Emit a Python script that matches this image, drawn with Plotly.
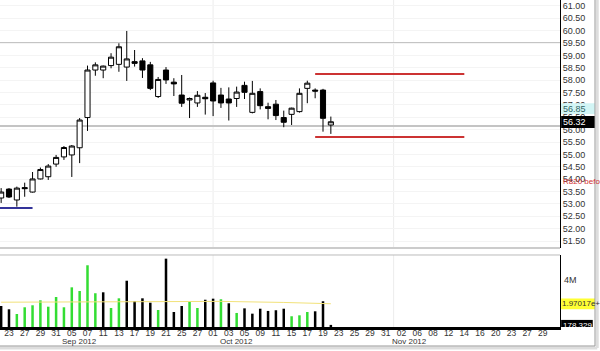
import plotly.graph_objects as go
import pandas as pd

# ---------------- data ----------------
dates = ["2012-08-22", "2012-08-23", "2012-08-24", "2012-08-27", "2012-08-28", "2012-08-29",
         "2012-08-30", "2012-08-31", "2012-09-04", "2012-09-05", "2012-09-06", "2012-09-07",
         "2012-09-10", "2012-09-11", "2012-09-12", "2012-09-13", "2012-09-14", "2012-09-17",
         "2012-09-18", "2012-09-19", "2012-09-20", "2012-09-21", "2012-09-24", "2012-09-25",
         "2012-09-26", "2012-09-27", "2012-09-28", "2012-10-01", "2012-10-02", "2012-10-03",
         "2012-10-04", "2012-10-05", "2012-10-08", "2012-10-09", "2012-10-10", "2012-10-11",
         "2012-10-12", "2012-10-15", "2012-10-16", "2012-10-17", "2012-10-18", "2012-10-19",
         "2012-10-22"]
opens = [53.24, 53.60, 53.16, 53.66, 53.48, 54.01, 54.10, 54.61, 54.90, 54.98, 55.27, 56.49,
         58.41, 58.41, 58.59, 58.64, 58.53, 58.75, 58.78, 58.62, 57.34, 58.41, 57.92, 57.40,
         57.20, 57.08, 57.31, 57.89, 57.40, 57.24, 57.26, 57.79, 56.70, 57.54, 56.93, 57.03,
         56.49, 56.62, 56.73, 57.67, 57.60, 57.60, 56.19]
highs = [53.64, 53.64, 53.70, 53.86, 54.29, 54.47, 54.61, 54.98, 55.34, 55.38, 56.47, 58.59,
         58.72, 58.59, 59.09, 59.49, 59.99, 59.22, 58.89, 58.74, 58.13, 58.53, 58.08, 58.21,
         57.30, 57.56, 57.48, 57.98, 57.69, 57.71, 57.74, 57.94, 57.97, 57.67, 57.09, 57.20,
         56.77, 56.89, 57.67, 57.98, 57.67, 57.65, 56.53]
lows = [53.04, 53.24, 52.89, 53.29, 53.46, 53.99, 53.97, 54.50, 54.78, 54.09, 54.65, 55.95,
        58.18, 58.08, 58.48, 58.34, 57.97, 58.55, 58.09, 57.60, 57.28, 57.85, 57.36, 56.92,
        56.47, 56.92, 56.61, 56.55, 56.88, 56.37, 56.92, 57.24, 56.66, 56.82, 56.42, 56.39,
        56.10, 56.19, 56.69, 57.07, 57.27, 55.92, 55.83]
closes = [53.48, 53.28, 53.64, 53.62, 54.01, 54.39, 54.53, 54.88, 55.28, 55.34, 56.39, 58.41,
          58.62, 58.57, 58.93, 59.35, 58.86, 58.68, 58.41, 57.67, 58.03, 58.01, 57.85, 57.07,
          57.26, 57.39, 57.25, 57.16, 57.08, 57.08, 57.52, 57.51, 57.47, 56.97, 56.86, 56.57,
          56.30, 56.87, 57.47, 57.88, 57.56, 56.46, 56.32]
volumes_m = [1.78, 1.50, 1.10, 1.67, 1.84, 2.26, 1.72, 2.54, 1.67, 3.36, 3.05, 5.23,
             2.86, 2.94, 1.61, 2.43, 3.92, 2.20, 2.43, 2.06, 1.44, 5.79, 1.27, 1.78,
             2.12, 1.61, 2.31, 2.40, 2.35, 2.01, 1.19, 1.58, 1.13, 1.55, 1.36, 1.42,
             1.55, 0.91, 0.99, 1.27, 1.33, 2.18, 0.178]
vol_up = [0, 0, 1, 1, 1, 1, 1, 1, 1, 1, 1, 1,
          1, 0, 1, 1, 0, 0, 0, 0, 1, 0, 0, 0,
          1, 1, 0, 0, 1, 0, 1, 0, 0, 0, 0, 0,
          0, 1, 1, 1, 0, 0, 0]
vol_ma_dates = ["2012-08-22", "2012-09-07", "2012-09-21", "2012-10-02", "2012-10-12", "2012-10-19", "2012-10-22"]
vol_ma_vals = [2.10, 2.12, 2.16, 2.17, 2.08, 2.00, 1.97]

hlines_gray = [59.50, 56.15]
red_levels = [58.25, 55.70]
red_span = ["2012-10-18", "2012-11-14"]
blue_level = 52.84
blue_span = ["2012-08-22", "2012-08-28"]
holidays = ["2012-09-03", "2012-11-22"]
price_ticks = [51.5 + 0.5 * k for k in range(20)]
month_labels = [("2012-09-06", "Sep 2012"), ("2012-10-04", "Oct 2012"), ("2012-11-05", "Nov 2012")]
month_starts = ["2012-10-01", "2012-11-01"]

# ---------------- trading calendar (x positions) ----------------
cal = [d.strftime("%Y-%m-%d") for d in pd.bdate_range("2012-08-22", "2012-11-30")
       if d.strftime("%Y-%m-%d") not in holidays]
pos = {d: i for i, d in enumerate(cal)}
x = [pos[d] for d in dates]
tick_idx = list(range(1, len(cal), 2))
tick_text = [cal[i][8:10] for i in tick_idx]

FONT = "Liberation Sans, Arial, sans-serif"
TXT = "#333333"

fig = go.Figure()
fig.add_trace(go.Candlestick(
    x=x, open=opens, high=highs, low=lows, close=closes,
    increasing=dict(line=dict(color="black", width=1), fillcolor="white"),
    decreasing=dict(line=dict(color="black", width=1), fillcolor="black"),
    whiskerwidth=0, showlegend=False, xaxis="x", yaxis="y", hoverinfo="skip"))

fig.add_trace(go.Bar(
    x=x, y=volumes_m, width=0.32,
    marker=dict(color=["#33dd33" if u else "#000000" for u in vol_up], line=dict(width=0)),
    showlegend=False, xaxis="x2", yaxis="y2", hoverinfo="skip"))

fig.add_trace(go.Scatter(
    x=[pos[d] for d in vol_ma_dates], y=vol_ma_vals, mode="lines",
    line=dict(color="#f2e27a", width=1), showlegend=False, xaxis="x2", yaxis="y2",
    hoverinfo="skip"))

xr = [-0.146, 71.19]
shapes = []
for lv in hlines_gray:
    shapes.append(dict(type="line", xref="x", yref="y", x0=xr[0], x1=xr[1], y0=lv, y1=lv,
                       line=dict(color="#c4c4c4", width=2), layer="below"))
for lv in red_levels:
    shapes.append(dict(type="line", xref="x", yref="y", x0=pos[red_span[0]], x1=pos[red_span[1]],
                       y0=lv, y1=lv, line=dict(color="#cc3333", width=2)))
shapes.append(dict(type="line", xref="x", yref="y", x0=xr[0], x1=pos[blue_span[1]],
                   y0=blue_level, y1=blue_level, line=dict(color="#333399", width=2)))
for d in month_starts:
    for yref in ("y", "y2"):
        shapes.append(dict(type="line", xref="x", yref=yref + " domain", x0=pos[d], x1=pos[d],
                           y0=0, y1=1, line=dict(color="#ececec", width=1), layer="below"))

# panel separators
shapes.append(dict(type="line", xref="paper", yref="paper", x0=0, x1=1,
                   y0=0.2416, y1=0.2416, line=dict(color="#cccccc", width=2)))
shapes.append(dict(type="line", xref="paper", yref="paper", x0=0, x1=1,
                   y0=0.2202, y1=0.2202, line=dict(color="#bbbbbb", width=1)))
# right axis labels boxes
RX1 = 595 / 560
shapes.append(dict(type="rect", xref="paper", yref="y", x0=1.002, x1=RX1, y0=56.63, y1=57.07,
                   fillcolor="#d2f5f5", line=dict(width=0)))
shapes.append(dict(type="rect", xref="paper", yref="y", x0=1.002, x1=RX1, y0=56.07, y1=56.55,
                   fillcolor="#000000", line=dict(width=0)))
shapes.append(dict(type="rect", xref="paper", yref="y2", x0=1.002, x1=RX1, y0=1.50, y1=2.42,
                   fillcolor="#ffff33", line=dict(width=0)))
shapes.append(dict(type="rect", xref="paper", yref="y2", x0=1.002, x1=RX1 - 0.004, y0=-0.40, y1=0.60,
                   fillcolor="#000000", line=dict(width=0)))
# outer frame (right + bottom with shadow)
BY = (327 - 346) / 327
shapes.append(dict(type="line", xref="paper", yref="paper", x0=RX1 + 0.004, x1=RX1 + 0.004, y0=1.0, y1=BY - 0.006,
                   line=dict(color="#dddddd", width=3)))
shapes.append(dict(type="line", xref="paper", yref="paper", x0=0, x1=RX1 + 0.004, y0=BY - 0.006, y1=BY - 0.006,
                   line=dict(color="#dddddd", width=3)))
shapes.append(dict(type="line", xref="paper", yref="paper", x0=RX1, x1=RX1, y0=1.0, y1=BY,
                   line=dict(color="#999999", width=1)))
shapes.append(dict(type="line", xref="paper", yref="paper", x0=0, x1=RX1, y0=BY, y1=BY,
                   line=dict(color="#999999", width=1)))

ann = []
for d, t in month_labels:
    ann.append(dict(x=pos[d], y=(327 - 341) / 327, xref="x2", yref="paper", text=t,
                    showarrow=False, font=dict(family=FONT, size=8, color=TXT),
                    xanchor="center", yanchor="middle"))
ann.append(dict(x=1.0, y=56.85, xref="paper", yref="y", text="56.85", showarrow=False,
                xanchor="left", yanchor="middle", xshift=1, font=dict(family=FONT, size=9, color="#336666")))
ann.append(dict(x=1.0, y=56.32, xref="paper", yref="y", text="56.32", showarrow=False,
                xanchor="left", yanchor="middle", xshift=1, font=dict(family=FONT, size=9, color="white")))
ann.append(dict(x=1.0, y=53.92, xref="paper", yref="y", text="R820 befo", showarrow=False,
                xanchor="left", yanchor="middle", xshift=1, font=dict(family=FONT, size=8, color="#d03030")))
ann.append(dict(x=1.0, y=4.0, xref="paper", yref="y2", text="4M", showarrow=False,
                xanchor="left", yanchor="middle", xshift=2, font=dict(family=FONT, size=9, color=TXT)))
ann.append(dict(x=1.0, y=1.96, xref="paper", yref="y2", text="1.97017e+", showarrow=False,
                xanchor="left", yanchor="middle", xshift=0, font=dict(family=FONT, size=8, color=TXT)))
ann.append(dict(x=1.0, y=0.10, xref="paper", yref="y2", text="178,329", showarrow=False,
                xanchor="left", yanchor="middle", xshift=1, font=dict(family=FONT, size=8, color="white")))

fig.update_layout(
    width=600, height=351,
    margin=dict(l=0, r=40, t=0, b=24),
    paper_bgcolor="white", plot_bgcolor="white",
    boxgap=0.35, boxgroupgap=0,
    showlegend=False,
    font=dict(family=FONT, size=9, color=TXT),
    xaxis=dict(domain=[0, 1], anchor="y", range=xr, showticklabels=False, showgrid=False,
               zeroline=False, rangeslider=dict(visible=False), matches="x2", fixedrange=True),
    xaxis2=dict(domain=[0, 1], anchor="y2", range=xr, tickmode="array", tickvals=tick_idx,
                ticktext=tick_text, showgrid=False, zeroline=False, showline=True,
                linecolor="black", linewidth=3, ticks="", ticklabelstandoff=-4,
                tickfont=dict(family=FONT, size=8.5, color=TXT)),
    yaxis=dict(domain=[0.2416, 1], range=[51.22, 61.24], side="right", anchor="x",
               tickmode="array", tickvals=price_ticks, ticktext=["%.2f" % v for v in price_ticks],
               showgrid=True, gridcolor="#f4f4f4", zeroline=False, showline=True,
               linecolor="black", linewidth=1, ticks="", tickfont=dict(family=FONT, size=9, color=TXT)),
    yaxis2=dict(domain=[0, 0.2202], range=[0, 6.1], side="right", anchor="x2",
                showticklabels=False, showgrid=False, zeroline=False, showline=True,
                linecolor="black", linewidth=1, ticks=""),
    shapes=shapes, annotations=ann,
)

fig.write_html("out.html")
